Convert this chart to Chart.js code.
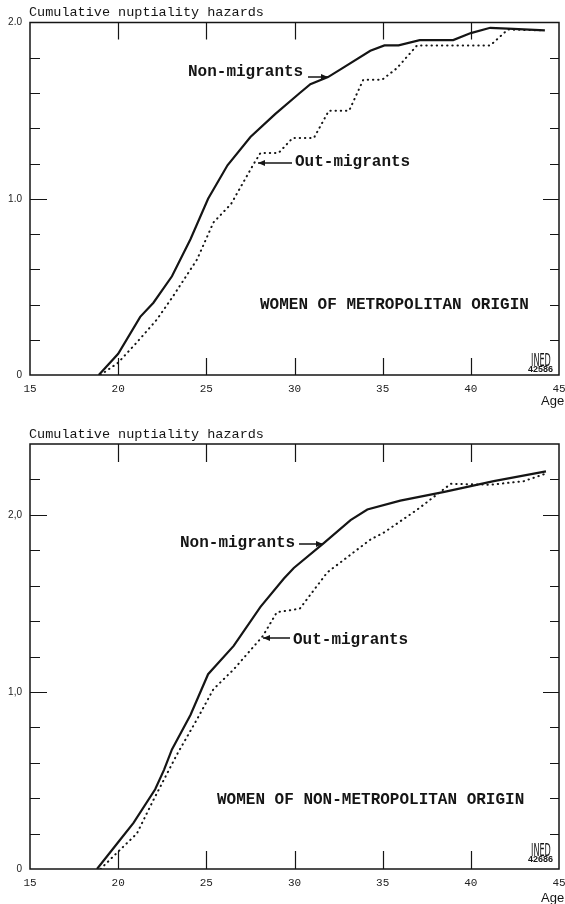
<!DOCTYPE html>
<html>
<head>
<meta charset="utf-8">
<script src="https://cdn.jsdelivr.net/npm/chart.js@4.4.1/dist/chart.umd.min.js"></script>
<style>
  html, body { margin: 0; padding: 0; background: #fff; }
  #wrap { position: relative; width: 565px; height: 904px; }
  canvas { position: absolute; left: 0; }
</style>
</head>
<body>
<div id="wrap">
  <canvas id="metro" width="565" height="420" style="top:0"></canvas>
  <canvas id="nonmetro" width="565" height="484" style="top:420px"></canvas>
</div>
<script>
// x axis (age) ticks
const ageTicks = [15, 20, 25, 30, 35, 40, 45];

// women of metropolitan origin
const metroYLabels = ['0', '1.0', '2.0'];
const metroNonAge = [18.9, 20.0, 21.25, 22.0, 23.05, 24.1, 25.1, 26.2, 27.5, 28.9, 30.3, 30.9, 31.9, 32.7, 34.3, 35.1, 35.9, 37.1, 39.0, 40.0, 41.1, 42.1, 44.2];
const metroNonHaz = [0, 0.12, 0.33, 0.41, 0.56, 0.77, 1.0, 1.19, 1.35, 1.48, 1.60, 1.65, 1.69, 1.74, 1.84, 1.87, 1.87, 1.90, 1.90, 1.94, 1.97, 1.965, 1.955];
const metroOutAge = [19.0, 20.0, 21.06, 22.2, 23.1, 24.47, 25.4, 26.4, 27.7, 28.07, 29.1, 29.9, 31.1, 31.95, 33.1, 33.9, 34.96, 35.8, 36.95, 41.1, 42.1, 44.2];
const metroOutHaz = [0, 0.07, 0.185, 0.315, 0.445, 0.655, 0.865, 0.97, 1.20, 1.26, 1.26, 1.345, 1.345, 1.50, 1.50, 1.675, 1.675, 1.74, 1.87, 1.87, 1.96, 1.955];

// women of non-metropolitan origin
const nonMetroYLabels = ['0', '1,0', '2,0'];
const nonMetroNonAge = [18.8, 20.1, 20.87, 22.1, 22.6, 23.05, 24.1, 25.1, 26.55, 28.07, 29.4, 29.96, 31.66, 33.18, 34.13, 36.0, 38.5, 41.3, 44.26];
const nonMetroNonHaz = [0, 0.164, 0.26, 0.45, 0.56, 0.675, 0.87, 1.10, 1.26, 1.48, 1.64, 1.70, 1.84, 1.97, 2.03, 2.08, 2.13, 2.19, 2.245];
const nonMetroOutAge = [19.0, 20.0, 21.06, 22.0, 23.33, 24.47, 25.4, 26.55, 28.2, 29.0, 30.3, 31.86, 34.3, 35.07, 36.97, 38.86, 41.1, 43.0, 44.17];
const nonMetroOutHaz = [0, 0.098, 0.20, 0.39, 0.646, 0.845, 1.015, 1.127, 1.315, 1.45, 1.47, 1.675, 1.86, 1.90, 2.03, 2.175, 2.17, 2.19, 2.23];

const INK = '#151515';
const MONO = '"Liberation Mono", "DejaVu Sans Mono", monospace';

function pts(ages, vals) {
  return ages.map((a, i) => ({ x: a, y: vals[i] }));
}

function arrow(ctx, x1, x2, y) {
  ctx.beginPath();
  ctx.moveTo(x1, y);
  ctx.lineTo(x2, y);
  ctx.stroke();
  const d = x2 > x1 ? 1 : -1;
  ctx.beginPath();
  ctx.moveTo(x2, y);
  ctx.lineTo(x2 - d * 7, y - 3);
  ctx.lineTo(x2 - d * 7, y + 3);
  ctx.closePath();
  ctx.fill();
}

// frame, inward ticks, captions
const decor = {
  id: 'decor',
  afterDraw(chart, args, o) {
    const { ctx, chartArea: a, scales: { x, y } } = chart;
    ctx.save();
    ctx.strokeStyle = INK;
    ctx.fillStyle = INK;
    ctx.lineWidth = 1.5;
    ctx.strokeRect(a.left, a.top, a.right - a.left, a.bottom - a.top);

    ctx.lineWidth = 1.2;
    ctx.beginPath();
    x.ticks.forEach(t => {
      if (t.value <= x.min || t.value >= x.max) return;
      const px = Math.round(x.getPixelForValue(t.value)) + 0.5;
      ctx.moveTo(px, a.bottom); ctx.lineTo(px, a.bottom - o.xTick);
      ctx.moveTo(px, a.top); ctx.lineTo(px, a.top + o.xTick);
    });
    y.ticks.forEach(t => {
      if (t.value <= y.min + 1e-6 || t.value >= y.max - 1e-6) return;
      const major = Math.abs(t.value - Math.round(t.value)) < 1e-6;
      const py = Math.round(y.getPixelForValue(t.value)) + 0.5;
      ctx.moveTo(a.left, py); ctx.lineTo(a.left + (major ? 17 : 10), py);
      ctx.moveTo(a.right, py); ctx.lineTo(a.right - (major ? 16 : 9), py);
    });
    ctx.stroke();

    ctx.textBaseline = 'alphabetic';
    ctx.textAlign = 'left';
    ctx.font = '13.5px ' + MONO;
    ctx.fillText('Cumulative nuptiality hazards', 29, o.titleY);

    ctx.font = '13px "Liberation Sans", sans-serif';
    ctx.fillText('Age', 541, o.ageY);

    ctx.font = 'bold 16px ' + MONO;
    ctx.textBaseline = 'middle';
    o.notes.forEach(n => {
      ctx.fillText(n.text, n.x, n.y);
      if (n.arrow) {
        ctx.lineWidth = 1.5;
        arrow(ctx, n.arrow[0], n.arrow[1], n.arrow[2]);
      }
    });

    // INED mark
    ctx.textBaseline = 'top';
    ctx.save();
    ctx.translate(531, o.inedY);
    ctx.scale(0.45, 1);
    ctx.font = '18px "DejaVu Sans", sans-serif';
    ctx.fillText('INED', 0, 0);
    ctx.restore();
    ctx.font = 'bold 9px "Liberation Sans", sans-serif';
    ctx.fillText(o.code, 528, o.inedY + 13);
    ctx.restore();
  }
};

function makeChart(id, series, yMax, yLabels, top, xAxisH, opts) {
  new Chart(document.getElementById(id), {
    type: 'line',
    data: {
      datasets: [
        {
          label: 'Non-migrants',
          data: pts(series[0], series[1]),
          borderColor: INK,
          borderWidth: 2.2,
          pointRadius: 0,
          tension: 0
        },
        {
          label: 'Out-migrants',
          data: pts(series[2], series[3]),
          borderColor: INK,
          borderWidth: 2,
          borderDash: [0.4, 4.8],
          borderCapStyle: 'round',
          pointRadius: 0,
          tension: 0
        }
      ]
    },
    options: {
      responsive: false,
      animation: false,
      layout: { padding: { top: top, right: 6, left: 0, bottom: 0 }, autoPadding: false },
      plugins: {
        legend: { display: false },
        tooltip: { enabled: false },
        decor: opts
      },
      scales: {
        x: {
          type: 'linear',
          min: 15,
          max: 45,
          grid: { display: false, drawTicks: false },
          border: { display: false },
          afterBuildTicks: s => { s.ticks = ageTicks.map(v => ({ value: v })); },
          ticks: {
            padding: 7,
            maxRotation: 0,
            autoSkip: false,
            color: '#222',
            font: { family: MONO, size: 11 },
            callback: v => String(v)
          },
          afterFit: s => {
            s.height = xAxisH;
            s.paddingLeft = 0;
            s.paddingRight = 0;
          }
        },
        y: {
          min: 0,
          max: yMax,
          grid: { display: false, drawTicks: false },
          border: { display: false },
          ticks: {
            stepSize: 0.2,
            padding: 8,
            autoSkip: false,
            color: '#222',
            font: { family: '"Liberation Sans", sans-serif', size: 10 },
            callback: v => (Math.abs(v - Math.round(v)) < 1e-6 ? yLabels[Math.round(v)] : '')
          },
          afterFit: s => {
            s.width = 30;
            s.paddingTop = 0;
            s.paddingBottom = 0;
          }
        }
      }
    },
    plugins: [decor]
  });
}

makeChart('metro', [metroNonAge, metroNonHaz, metroOutAge, metroOutHaz], 2.0, metroYLabels, 22.5, 45, {
  xTick: 17,
  titleY: 16,
  ageY: 405,
  inedY: 352,
  code: '42586',
  notes: [
    { text: 'Non-migrants', x: 188, y: 72, arrow: [308, 328, 77] },
    { text: 'Out-migrants', x: 295, y: 162, arrow: [292, 258, 163] },
    { text: 'WOMEN OF METROPOLITAN ORIGIN', x: 260, y: 305 }
  ]
});

makeChart('nonmetro', [nonMetroNonAge, nonMetroNonHaz, nonMetroOutAge, nonMetroOutHaz], 2.4, nonMetroYLabels, 24, 35, {
  xTick: 18,
  titleY: 17.5,
  ageY: 482,
  inedY: 422,
  code: '42686',
  notes: [
    { text: 'Non-migrants', x: 180, y: 123, arrow: [299, 323, 124] },
    { text: 'Out-migrants', x: 293, y: 220, arrow: [290, 263, 218] },
    { text: 'WOMEN OF NON-METROPOLITAN ORIGIN', x: 217, y: 380 }
  ]
});
</script>
</body>
</html>
